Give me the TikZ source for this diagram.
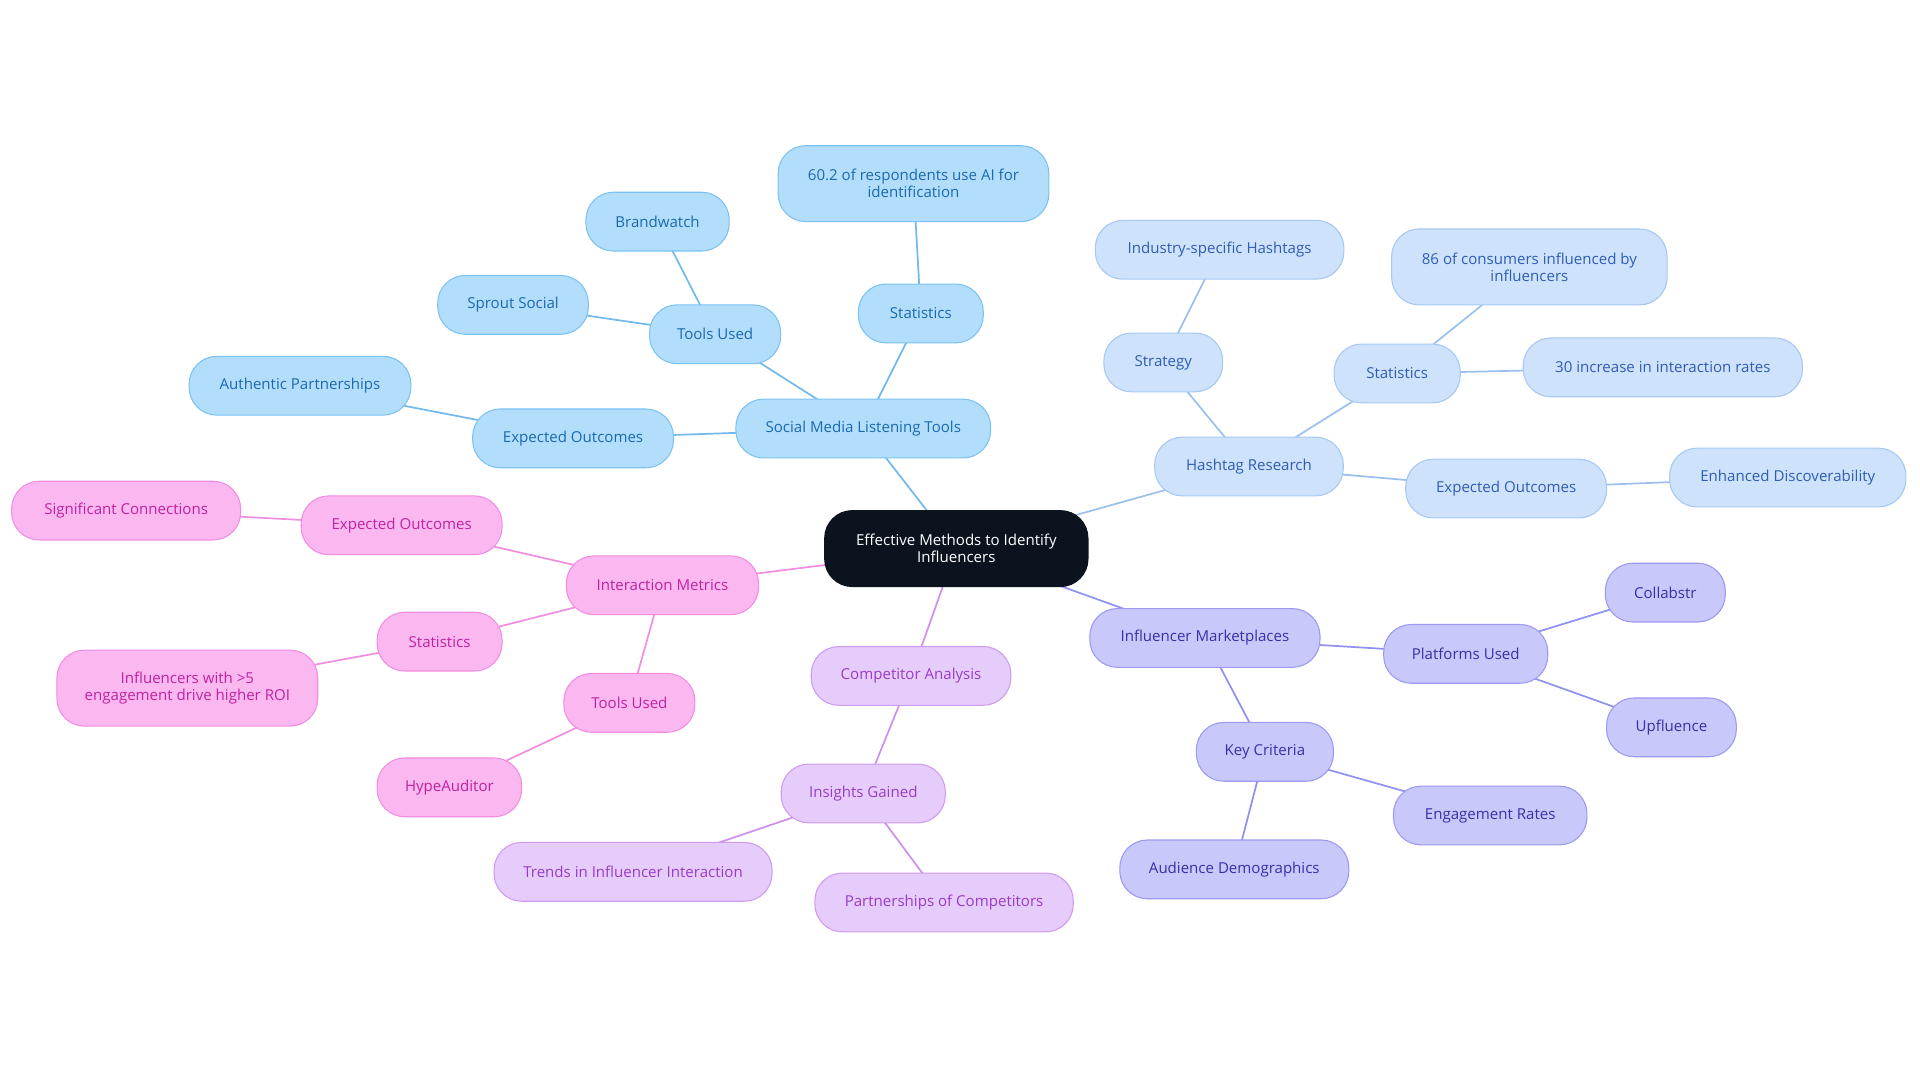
\documentclass[tikz,border=0pt]{standalone}
\usepackage{fontspec}
\setmainfont{Open Sans}
\usetikzlibrary{backgrounds}
\definecolor{rootf}{HTML}{0B131E}
\definecolor{bF}{HTML}{B3DEFB}\definecolor{bD}{HTML}{7CC3F3}\definecolor{bT}{HTML}{1A6AB0}\definecolor{bL}{HTML}{72B9EC}
\definecolor{hF}{HTML}{CFE2FB}\definecolor{hD}{HTML}{A6C8F3}\definecolor{hT}{HTML}{2E5EB5}\definecolor{hL}{HTML}{9BC0EE}
\definecolor{mF}{HTML}{C8C8FA}\definecolor{mD}{HTML}{9C9AF0}\definecolor{mT}{HTML}{3B2FA8}\definecolor{mL}{HTML}{9090EE}
\definecolor{cF}{HTML}{E6CCFA}\definecolor{cD}{HTML}{D09CF2}\definecolor{cT}{HTML}{9A3BC8}\definecolor{cL}{HTML}{CE8FEE}
\definecolor{pF}{HTML}{FBB8F0}\definecolor{pD}{HTML}{F28DE0}\definecolor{pT}{HTML}{C0229F}\definecolor{pL}{HTML}{F08FE0}
\tikzset{
 x=0.02cm,y=-0.02cm,
 base/.style={rounded corners=0.45cm,minimum height=0.96cm,align=center,font=\fontsize{7}{8}\selectfont,inner xsep=2pt,line width=0.5pt},
 w/.style={minimum width={#1*0.02cm}},
 rootn/.style={base,fill=rootf,draw=rootf,text=white,minimum height=1.24cm},
 bn/.style={base,fill=bF,draw=bD,text=bT},
 hn/.style={base,fill=hF,draw=hD,text=hT},
 mn/.style={base,fill=mF,draw=mD,text=mT},
 cn/.style={base,fill=cF,draw=cD,text=cT},
 pn/.style={base,fill=pF,draw=pD,text=pT},
 tall/.style={minimum height=1.24cm},
 e/.style={line width=0.8pt,draw=#1},
}
\begin{document}
\begin{tikzpicture}
\useasboundingbox (0,0) rectangle (1568,884);
\node[rootn,w=215] (root) at (781,448) {Effective Methods to Identify\\Influencers};
% blue
\node[bn,w=208] (smlt) at (705,350) {Social Media Listening Tools};
\node[bn,w=107] (tools1) at (584,273) {Tools Used};
\node[bn,w=117] (brand) at (537,181) {Brandwatch};
\node[bn,w=123] (sprout) at (419,249) {Sprout Social};
\node[bn,w=102] (stat1) at (752,256) {Statistics};
\node[bn,w=221,tall] (stat1a) at (746,150) {60.2 of respondents use AI for\\identification};
\node[bn,w=164] (exp1) at (468,358) {Expected Outcomes};
\node[bn,w=181] (auth) at (245,315) {Authentic Partnerships};
% hashtag
\node[hn,w=154] (hash) at (1020,381) {Hashtag Research};
\node[hn,w=97] (strat) at (950,296) {Strategy};
\node[hn,w=203] (ind) at (996,204) {Industry-specific Hashtags};
\node[hn,w=103] (stat2) at (1141,305) {Statistics};
\node[hn,w=225,tall] (s2a) at (1249,218) {86 of consumers influenced by\\influencers};
\node[hn,w=228] (s2b) at (1358,300) {30 increase in interaction rates};
\node[hn,w=164] (exp2) at (1230,399) {Expected Outcomes};
\node[hn,w=193] (enh) at (1460,390) {Enhanced Discoverability};
% marketplaces
\node[mn,w=188] (mkt) at (984,521) {Influencer Marketplaces};
\node[mn,w=134] (plat) at (1197,534) {Platforms Used};
\node[mn,w=98] (coll) at (1360,484) {Collabstr};
\node[mn,w=106] (upf) at (1365,594) {Upfluence};
\node[mn,w=112] (key) at (1033,614) {Key Criteria};
\node[mn,w=158] (eng) at (1217,666) {Engagement Rates};
\node[mn,w=187] (aud) at (1008,710) {Audience Demographics};
% competitor
\node[cn,w=163] (comp) at (744,552) {Competitor Analysis};
\node[cn,w=134] (ins) at (705,648) {Insights Gained};
\node[cn,w=227] (trend) at (517,712) {Trends in Influencer Interaction};
\node[cn,w=211] (part) at (771,737) {Partnerships of Competitors};
% pink
\node[pn,w=157] (inter) at (541,478) {Interaction Metrics};
\node[pn,w=164] (exp3) at (328,429) {Expected Outcomes};
\node[pn,w=187] (sig) at (103,417) {Significant Connections};
\node[pn,w=102] (stat3) at (359,524) {Statistics};
\node[pn,w=213,tall] (s3a) at (153,562) {Influencers with >5\\engagement drive higher ROI};
\node[pn,w=107] (tools3) at (514,574) {Tools Used};
\node[pn,w=118] (hype) at (367,643) {HypeAuditor};
\begin{scope}[on background layer]
\draw[e=bL] (root.center)--(smlt.center) (smlt.center)--(tools1.center) (tools1.center)--(brand.center) (tools1.center)--(sprout.center) (smlt.center)--(stat1.center) (stat1.center)--(stat1a.center) (smlt.center)--(exp1.center) (exp1.center)--(auth.center);
\draw[e=hL] (root.center)--(hash.center) (hash.center)--(strat.center) (strat.center)--(ind.center) (hash.center)--(stat2.center) (stat2.center)--(s2a.center) (stat2.center)--(s2b.center) (hash.center)--(exp2.center) (exp2.center)--(enh.center);
\draw[e=mL] (root.center)--(mkt.center) (mkt.center)--(plat.center) (plat.center)--(coll.center) (plat.center)--(upf.center) (mkt.center)--(key.center) (key.center)--(eng.center) (key.center)--(aud.center);
\draw[e=cL] (root.center)--(comp.center) (comp.center)--(ins.center) (ins.center)--(trend.center) (ins.center)--(part.center);
\draw[e=pL] (root.center)--(inter.center) (inter.center)--(exp3.center) (exp3.center)--(sig.center) (inter.center)--(stat3.center) (stat3.center)--(s3a.center) (inter.center)--(tools3.center) (tools3.center)--(hype.center);
\end{scope}
\end{tikzpicture}
\end{document}
